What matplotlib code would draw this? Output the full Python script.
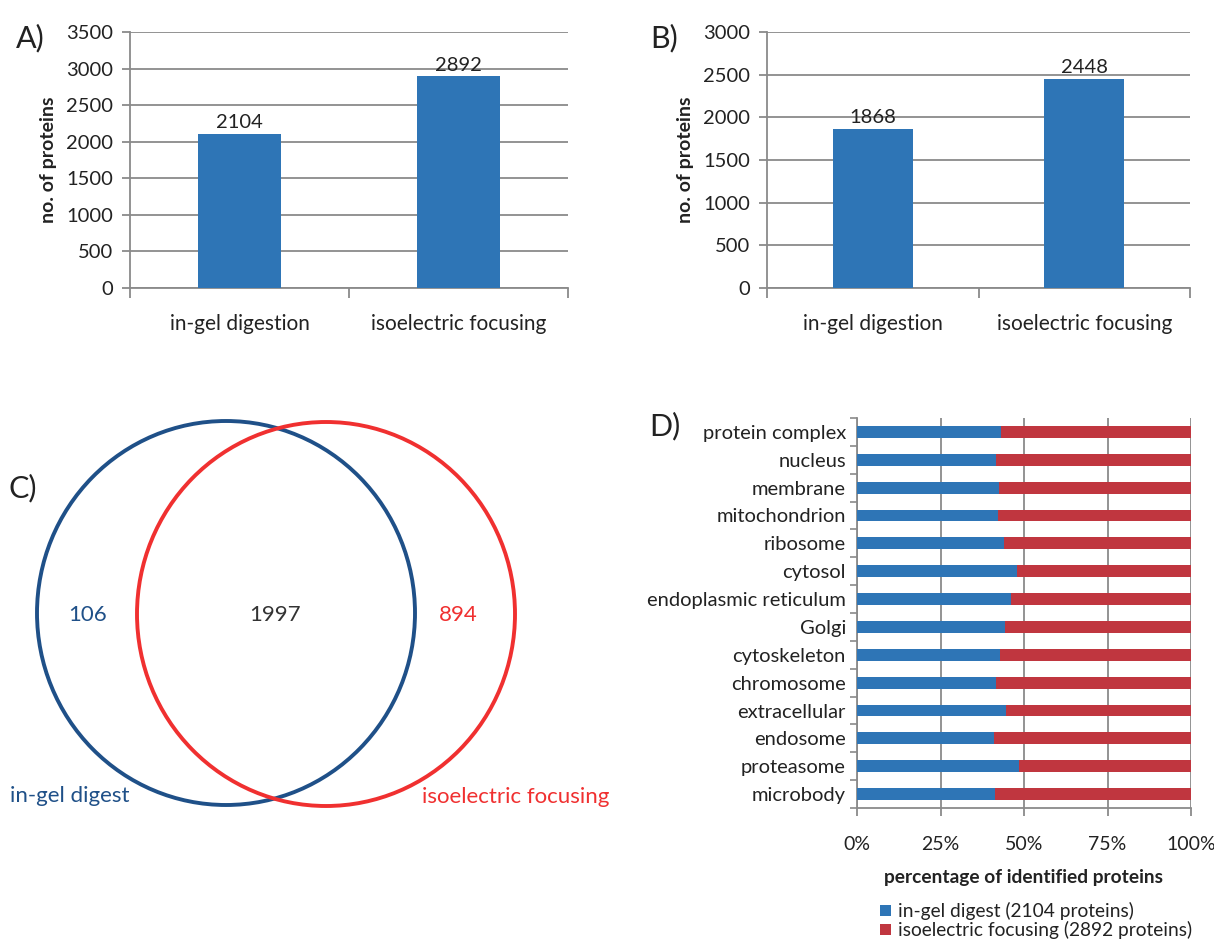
import matplotlib.pyplot as plt
from matplotlib.patches import Ellipse
from matplotlib.ticker import FixedLocator, PercentFormatter

# protein identification counts per fractionation method
methods = ["in-gel digestion", "isoelectric focusing"]
counts_a = [2104, 2892]
counts_b = [1868, 2448]

# Venn overlap between the two methods
venn_only_gel = 106
venn_shared = 1997
venn_only_ief = 894
venn_names = ["in-gel digest", "isoelectric focusing"]

# subcellular localisation, share identified by in-gel digest (%)
locations = [
    "protein complex", "nucleus", "membrane", "mitochondrion", "ribosome",
    "cytosol", "endoplasmic reticulum", "Golgi", "cytoskeleton", "chromosome",
    "extracellular", "endosome", "proteasome", "microbody",
]
gel_share = [43.2, 41.6, 42.4, 42.2, 44.0, 47.8, 46.0, 44.4, 42.7, 41.7,
             44.7, 40.9, 48.5, 41.2]
ief_share = [100 - v for v in gel_share]
legend_labels = ["in-gel digest (2104 proteins)",
                 "isoelectric focusing (2892 proteins)"]

BAR_BLUE = "#2e75b6"
BAR_RED = "#c0363f"
GRID = "#8a8a8a"
TXT = "#222222"
VENN_BLUE = "#1f5088"
VENN_RED = "#f03030"

plt.rcParams["font.family"] = ["Lato", "DejaVu Sans"]

W, H = 1214, 948
fig = plt.figure(figsize=(W / 100, H / 100), dpi=100)


def px_axes(x0, y0, x1, y1):
    """Axes from pixel box (left, top, right, bottom)."""
    return fig.add_axes([x0 / W, 1 - y1 / H, (x1 - x0) / W, (y1 - y0) / H])


def count_panel(ax, values, ymax, letter, letter_xy):
    x = range(len(values))
    bars = ax.bar(x, values, width=0.38, color=BAR_BLUE, zorder=3)
    ax.bar_label(bars, labels=[str(v) for v in values], padding=2,
                 fontsize=14.5, color=TXT)
    ax.set_xlim(-0.5, len(values) - 0.5)
    ax.set_ylim(0, ymax)
    ax.set_yticks(range(0, ymax + 1, 500))
    ax.yaxis.grid(True, color=GRID, lw=1.3, zorder=0)
    ax.set_xticks(list(x))
    ax.set_xticklabels(methods, fontsize=15, color=TXT)
    ax.xaxis.set_minor_locator(FixedLocator([-0.5, 0.5, 1.5]))
    ax.tick_params(axis="x", which="major", length=0, pad=19)
    ax.tick_params(axis="x", which="minor", length=7, width=1.3, color=GRID)
    ax.tick_params(axis="y", length=6, width=1.3, color=GRID, pad=6,
                   labelsize=14.5, labelcolor=TXT)
    for side in ("top", "right"):
        ax.spines[side].set_visible(False)
    for side in ("left", "bottom"):
        ax.spines[side].set_color(GRID)
        ax.spines[side].set_linewidth(1.3)
    ax.set_ylabel("no. of proteins", fontsize=14, fontweight="bold",
                  color=TXT, labelpad=7)
    fig.text(letter_xy[0] / W, 1 - letter_xy[1] / H, letter,
             fontsize=22, color=TXT, va="center", ha="left")


ax_a = px_axes(130, 32, 568, 288)
count_panel(ax_a, counts_a, 3500, "A)", (16, 38))

ax_b = px_axes(767, 32, 1190, 288)
count_panel(ax_b, counts_b, 3000, "B)", (650, 38))

# Venn diagram, drawn in pixel units with equal aspect
ax_c = px_axes(0, 390, 620, 840)
ax_c.set_xlim(0, 620)
ax_c.set_ylim(840, 390)
ax_c.set_aspect("equal")
ax_c.axis("off")
ax_c.add_patch(Ellipse((226, 613), 378, 384, fill=False,
                       edgecolor=VENN_BLUE, lw=2.8))
ax_c.add_patch(Ellipse((326, 614), 378, 384, fill=False,
                       edgecolor=VENN_RED, lw=2.8))
ax_c.text(88, 615, str(venn_only_gel), color=VENN_BLUE, fontsize=16,
          ha="center", va="center")
ax_c.text(275, 615, str(venn_shared), color="#333333", fontsize=16,
          ha="center", va="center")
ax_c.text(458, 615, str(venn_only_ief), color=VENN_RED, fontsize=16,
          ha="center", va="center")
ax_c.text(10, 796, venn_names[0], color=VENN_BLUE, fontsize=16,
          ha="left", va="center")
ax_c.text(609, 797, venn_names[1], color=VENN_RED, fontsize=16,
          ha="right", va="center")
ax_c.text(8, 488, "C)", color=TXT, fontsize=22, ha="left", va="center")

# stacked percentage bars per localisation
ax_d = px_axes(857, 418, 1191, 808)
y = range(len(locations))
ax_d.barh(y, gel_share, height=0.43, color=BAR_BLUE, zorder=3,
          label=legend_labels[0])
ax_d.barh(y, ief_share, left=gel_share, height=0.43, color=BAR_RED,
          zorder=3, label=legend_labels[1])
ax_d.set_ylim(len(locations) - 0.5, -0.5)
ax_d.set_xlim(0, 100)
ax_d.set_yticks(list(y))
ax_d.set_yticklabels(locations, fontsize=14.5, color=TXT)
ax_d.yaxis.set_minor_locator(
    FixedLocator([i - 0.5 for i in range(len(locations) + 1)]))
ax_d.tick_params(axis="y", which="major", length=0, pad=8)
ax_d.tick_params(axis="y", which="minor", length=5, width=1.2, color=GRID)
ax_d.set_xticks([0, 25, 50, 75, 100])
ax_d.xaxis.set_major_formatter(PercentFormatter(decimals=0))
ax_d.tick_params(axis="x", length=6, width=1.3, color=GRID, labelsize=14,
                 labelcolor=TXT, pad=14)
ax_d.xaxis.grid(True, color=GRID, lw=1.3, zorder=0)
for side in ("top", "right"):
    ax_d.spines[side].set_visible(False)
for side in ("left", "bottom"):
    ax_d.spines[side].set_color(GRID)
    ax_d.spines[side].set_linewidth(1.3)
ax_d.set_xlabel("percentage of identified proteins", fontsize=13.8,
                fontweight="bold", color=TXT, labelpad=12)
ax_d.legend(loc="upper left", bbox_to_anchor=(880 / W, 1 - 902 / H),
            bbox_transform=fig.transFigure, frameon=False, fontsize=13.8,
            handlelength=0.55, handleheight=0.55, handletextpad=0.4,
            labelspacing=0.05, borderaxespad=0, borderpad=0,
            labelcolor=TXT)
fig.text(665 / W, 1 - 426 / H, "D)", fontsize=22, color=TXT,
         ha="center", va="center")

fig.savefig("out.png", dpi=100)
